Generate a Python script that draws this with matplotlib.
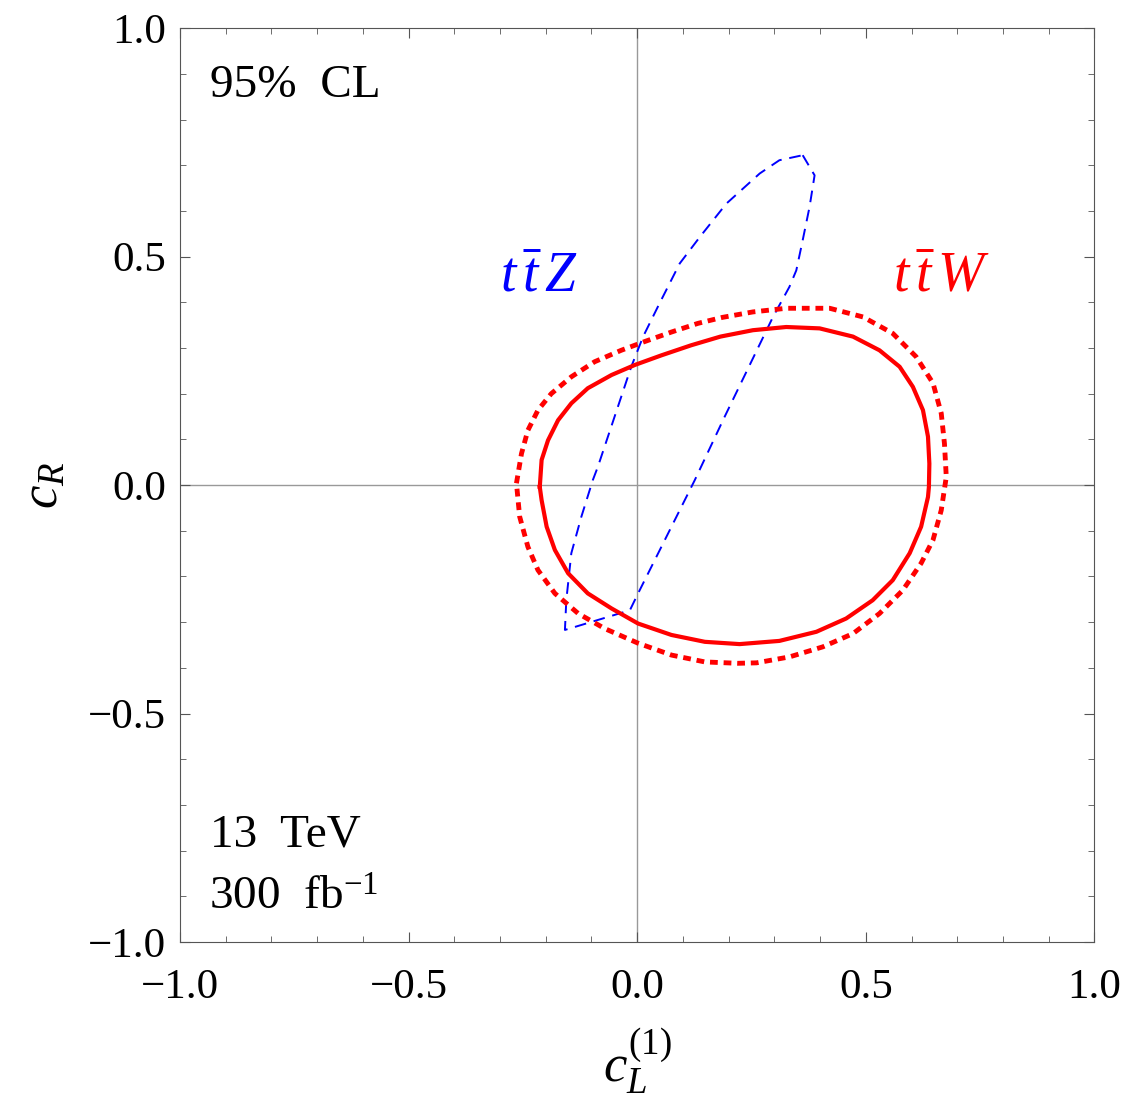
import numpy as np
import matplotlib
matplotlib.use("Agg")
import matplotlib.pyplot as plt

plt.rcParams['font.family'] = 'Liberation Serif'
plt.rcParams['mathtext.fontset'] = 'custom'
plt.rcParams['mathtext.rm'] = 'Liberation Serif'
plt.rcParams['mathtext.it'] = 'Liberation Serif:italic'

# ttZ 95% CL region (blue dashed)
ttz_x = [0.362, 0.388, 0.377, 0.362, 0.348, 0.333, 0.297, 0.191, 0.126, 0.082,
         0.002, -0.016, -0.158, -0.155, -0.144, -0.122, -0.097, -0.086, -0.013, 0.013,
         0.049, 0.093, 0.137, 0.195, 0.268, 0.311, 0.362]
ttz_y = [0.722, 0.678, 0.609, 0.536, 0.47, 0.434, 0.368, 0.149, 0.011, -0.077,
         -0.237, -0.274, -0.317, -0.252, -0.149, -0.069, 0.011, 0.04, 0.259, 0.325,
         0.398, 0.485, 0.543, 0.616, 0.682, 0.711, 0.722]

# ttW region, solid
ttw_x = [-0.213, -0.209, -0.195, -0.173, -0.144, -0.108, -0.056, -0.005, 0.053, 0.118,
         0.182, 0.253, 0.326, 0.399, 0.472, 0.53, 0.574, 0.603, 0.625, 0.636,
         0.639, 0.638, 0.636, 0.621, 0.596, 0.559, 0.515, 0.457, 0.392, 0.311,
         0.224, 0.148, 0.075, 0.002, -0.056, -0.108, -0.151, -0.18, -0.198, -0.209, -0.213]
ttw_y = [-0.004, 0.055, 0.098, 0.142, 0.179, 0.212, 0.241, 0.263, 0.284, 0.306,
         0.325, 0.339, 0.346, 0.343, 0.325, 0.295, 0.259, 0.215, 0.164, 0.106,
         0.047, -0.004, -0.026, -0.091, -0.149, -0.208, -0.252, -0.292, -0.321, -0.341,
         -0.348, -0.343, -0.328, -0.303, -0.27, -0.237, -0.193, -0.142, -0.091, -0.033, -0.004]

# ttW region, dotted
ttw2_x = [-0.264, -0.253, -0.239, -0.217, -0.188, -0.144, -0.093, -0.035, 0.016, 0.075,
          0.133, 0.186, 0.253, 0.326, 0.421, 0.494, 0.559, 0.61, 0.647, 0.665,
          0.672, 0.676, 0.665, 0.647, 0.621, 0.581, 0.53, 0.472, 0.406, 0.333,
          0.261, 0.22, 0.148, 0.075, 0.002, -0.071, -0.129, -0.18, -0.217, -0.239,
          -0.257, -0.264]
ttw2_y = [0.004, 0.069, 0.12, 0.164, 0.2, 0.237, 0.27, 0.295, 0.314, 0.335,
          0.354, 0.367, 0.379, 0.387, 0.387, 0.368, 0.332, 0.281, 0.223, 0.157,
          0.091, 0.018, -0.055, -0.12, -0.171, -0.23, -0.281, -0.325, -0.354, -0.376,
          -0.389, -0.39, -0.387, -0.372, -0.346, -0.314, -0.281, -0.237, -0.186, -0.135,
          -0.069, 0.004]

ticks = [-1.0, -0.5, 0.0, 0.5, 1.0]
tick_labels = ['\u22121.0', '\u22120.5', '0.0', '0.5', '1.0']

fig = plt.figure(figsize=(11.46, 11.01), dpi=100)
ax = fig.add_axes([0.157, 0.1444, 0.798, 0.830])

ax.axhline(0, color='#999999', lw=1.0, zorder=1)
ax.axvline(0, color='#999999', lw=1.0, zorder=1)

ax.plot(ttz_x, ttz_y, color='blue', lw=1.4, linestyle=(0, (6, 4)))
ax.plot(ttw_x, ttw_y, color='red', lw=3.0, solid_joinstyle='round')
ax.plot(ttw2_x, ttw2_y, color='red', lw=3.5, linestyle=(0, (1.6, 1.2)))

ax.set_xlim(-1, 1)
ax.set_ylim(-1, 1)
ax.set_xticks(ticks)
ax.set_xticklabels(tick_labels)
ax.set_yticks(ticks)
ax.set_yticklabels(tick_labels)
ax.set_xticks(np.arange(-1, 1.01, 0.1), minor=True)
ax.set_yticks(np.arange(-1, 1.01, 0.1), minor=True)
ax.tick_params(which='both', direction='in', top=True, right=True, color='#555555')
ax.tick_params(which='major', length=7, labelsize=31)
ax.tick_params(axis='x', which='major', pad=19)
ax.tick_params(axis='y', which='major', pad=10)
ax.tick_params(which='minor', length=4)
for s in ax.spines.values():
    s.set_color('#555555')

ax.set_xlabel(r'$c_L^{(1)}$', fontsize=38, labelpad=14)
ax.set_ylabel(r'$c_R$', fontsize=38, labelpad=14)

ax.text(-0.934, 0.875, '95%  CL', fontsize=34, va='center')
ax.text(-0.934, -0.766, '13  TeV', fontsize=34, va='center')
ax.text(-0.936, -0.905, r'300  fb$^{-1}$', fontsize=34, va='center')
ax.text(-0.30, 0.455, r'$t\,\bar{t}\,Z$', fontsize=40, color='blue', va='center')
ax.text(0.56, 0.455, r'$t\,\bar{t}\,W$', fontsize=40, color='red', va='center')

plt.savefig("out.png", dpi=100)
